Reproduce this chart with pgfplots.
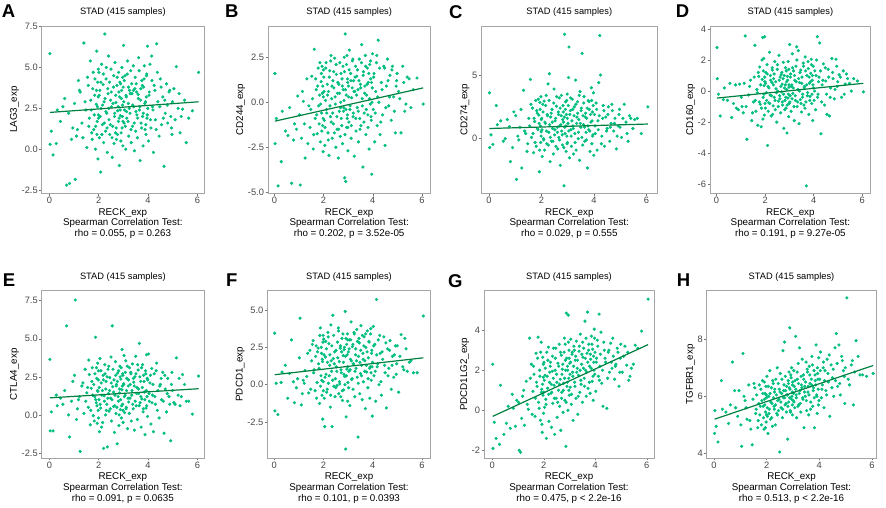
\documentclass[border=0pt]{standalone}
\usepackage{fontspec}
\setmainfont{Liberation Sans}
\usepackage{pgfplots}
\usepackage{pgfplotstable}
\pgfplotsset{compat=1.18}
\definecolor{ptc}{RGB}{0,190,125}
\definecolor{fitc}{RGB}{0,128,64}
\definecolor{framec}{RGB}{165,165,165}

\pgfplotstableread{
x a b c d e f g h
0.02 5.85 1.60 3.60 2.80 3.65 3.45 2.30 4.70
0.03 0.30 -2.30 -0.70 0.80 -1.05 -1.75 -1.90 5.50
0.15 -0.35 -4.65 -0.45 -1.60 -1.05 -2.00 -1.40 4.40
0.28 0.35 -3.30 2.60 -0.55 1.30 0.15 -1.70 6.55
0.32 2.40 -0.50 1.10 0.20 0.60 0.85 1.25 5.55
0.55 2.60 -1.85 -0.20 0.50 0.70 -0.90 -0.65 5.05
0.70 -2.20 -4.50 1.50 -0.80 5.85 3.00 -0.90 7.20
0.82 -2.10 -1.20 -1.80 -1.10 -1.45 -1.20 0.10 5.60
0.95 1.30 0.35 2.10 0.45 2.20 0.40 0.50 6.20
1.05 -1.85 -4.60 -3.20 -1.00 7.55 4.45 -2.00 4.25
1.10 0.80 -2.00 0.20 -1.40 -0.30 -1.35 -2.10 7.50
1.18 4.20 0.05 0.90 3.55 1.00 0.30 0.70 5.85
1.25 3.50 -3.10 -2.30 -3.10 -2.40 0.95 -0.75 5.20
1.32 1.60 1.30 3.80 -0.25 1.90 0.55 1.45 6.40
1.40 6.50 -0.20 0.40 0.70 0.10 -0.55 0.05 4.85
1.45 2.90 -1.40 -1.00 -1.90 3.00 2.30 3.60 4.30
1.52 0.10 1.45 1.60 -0.70 1.45 1.60 2.30 6.45
1.58 3.90 -2.60 4.65 2.95 0.50 2.95 0.95 5.40
1.62 1.90 2.95 0.10 -1.30 2.65 1.00 1.80 6.05
1.66 5.40 -0.90 2.40 0.10 -0.65 -0.40 -0.30 4.90
1.70 2.40 0.70 -1.10 -2.20 1.75 2.60 2.85 5.75
1.74 0.60 -1.75 1.35 0.95 3.10 0.15 1.20 5.35
1.78 4.70 1.90 3.00 1.55 -0.05 2.45 3.65 6.25
1.80 1.20 -0.20 -0.60 -0.85 2.00 1.40 0.40 5.00
1.84 3.30 0.40 2.00 -2.30 1.20 -1.25 2.00 6.55
1.87 0.00 -2.20 0.70 2.00 5.10 3.80 -0.50 5.65
1.90 2.75 1.15 1.85 3.45 0.80 0.60 3.40 4.85
1.92 6.00 -0.60 -2.60 -0.40 2.40 2.10 1.05 5.90
1.94 1.70 2.00 2.85 2.10 -0.55 -0.70 -1.10 6.10
1.96 4.10 -1.30 1.00 0.35 3.40 1.55 2.65 5.45
1.97 -0.60 0.90 -0.30 -1.55 1.55 -2.30 0.75 6.35
1.98 3.20 -2.75 3.30 3.50 0.30 2.85 1.65 5.10
1.99 2.10 0.30 0.55 0.60 2.90 0.20 -0.15 5.95
2.01 4.70 1.40 1.60 -1.10 1.00 3.05 2.40 6.70
2.03 0.70 -1.00 -1.40 1.20 -1.10 -0.90 0.15 5.30
2.05 3.60 -2.40 2.70 -0.10 3.70 -2.80 1.75 4.70
2.08 -1.40 0.10 0.00 1.70 0.45 1.85 0.55 6.00
2.10 2.50 2.20 2.95 -3.50 2.10 0.70 -1.40 5.55
2.12 5.20 -0.40 -0.90 0.30 -0.80 2.40 2.90 6.90
2.15 1.50 1.00 1.20 -0.75 1.60 -0.30 1.10 5.20
2.18 3.95 -1.70 3.40 2.50 2.60 3.50 3.15 6.30
2.20 0.40 0.60 -0.40 -0.25 -2.20 0.10 -0.55 5.75
2.22 2.90 -2.95 1.90 1.00 1.25 2.75 1.40 4.95
2.25 7.05 1.75 4.30 -1.60 3.30 1.30 2.20 6.45
2.28 1.10 -0.80 0.50 0.55 0.00 -1.50 0.85 5.65
2.30 4.30 2.60 5.10 1.35 2.20 4.00 -0.85 6.15
2.33 2.20 0.20 -1.80 -0.95 0.70 0.90 1.95 5.00
2.35 -0.20 -2.00 1.70 0.80 -2.10 -2.80 0.35 6.60
2.38 3.40 1.20 -0.20 -0.40 3.00 4.65 3.10 5.40
2.40 5.70 -1.20 2.30 1.90 1.40 1.75 1.25 7.00
2.42 1.80 0.80 0.80 -1.20 0.25 -0.10 -1.20 5.85
2.45 0.90 2.45 -1.20 0.15 2.45 2.20 2.60 5.50
2.48 3.00 -0.10 3.90 -2.00 1.10 0.40 0.60 6.25
2.50 4.90 -2.50 0.30 1.40 3.80 -0.20 1.80 4.05
2.52 2.60 1.55 1.40 0.00 -0.40 1.20 -0.35 6.80
2.55 -0.50 -1.50 -0.60 -0.65 5.85 -0.05 2.35 5.60
2.57 1.40 0.50 2.55 2.30 1.85 2.85 1.00 6.10
2.60 3.80 -3.10 0.90 -0.30 0.55 3.80 3.30 5.25
2.62 0.35 1.00 -0.80 0.90 2.30 -0.60 0.20 7.60
2.64 2.00 -0.50 2.10 -1.40 -1.15 1.55 1.55 5.95
2.66 5.30 2.20 0.10 1.05 1.30 0.05 -1.00 6.40
2.68 1.00 -1.90 3.20 -0.05 3.50 2.45 2.75 7.90
2.70 2.85 0.00 1.00 0.45 0.10 -0.80 0.90 5.70
2.72 0.60 -0.90 -2.10 -0.90 2.00 0.80 2.05 6.20
2.75 4.40 1.30 1.80 1.85 -1.90 3.10 -0.10 5.45
2.77 2.35 -2.30 0.60 -2.40 2.75 -1.05 1.35 6.05
2.80 1.70 0.70 -0.50 0.20 0.90 1.95 3.60 4.50
2.82 3.50 -0.30 2.60 -0.60 -0.70 -0.35 0.50 6.55
2.84 -1.00 2.50 1.30 1.50 1.45 2.35 2.50 5.80
2.86 4.10 -4.20 -3.70 -1.10 3.20 0.55 -1.80 6.30
2.88 2.05 3.80 8.20 0.60 0.35 4.90 4.85 8.40
2.90 0.50 -4.40 0.40 -2.70 2.35 -4.30 1.20 5.50
2.92 3.10 0.40 2.90 0.95 -0.20 -2.15 2.20 6.75
2.94 5.00 -1.40 -1.00 -0.45 1.65 2.70 0.00 5.90
2.95 1.30 2.60 1.90 1.90 4.30 1.05 4.75 7.00
2.97 2.70 -0.70 0.20 -1.65 0.70 3.40 1.60 6.15
2.98 0.20 1.10 3.50 0.25 2.60 -1.10 3.00 5.35
2.99 3.80 -2.70 -0.30 -0.80 -0.50 0.15 0.75 6.50
3.01 6.35 0.90 1.20 3.00 2.05 2.20 2.35 5.85
3.03 1.60 -1.10 4.80 -0.30 3.90 0.90 1.15 6.90
3.05 2.40 2.90 7.20 1.10 0.15 3.00 3.55 6.35
3.07 4.50 -0.40 -1.50 -1.30 1.30 -1.40 0.30 5.60
3.10 0.00 1.60 2.20 0.40 3.55 1.70 2.80 8.10
3.12 3.20 -2.00 0.70 2.40 0.50 4.20 1.90 6.05
3.14 1.90 0.25 -0.60 -0.15 2.40 0.35 -0.50 5.25
3.17 5.40 2.30 3.10 1.30 -0.90 2.55 3.20 6.60
3.20 2.80 -0.80 1.00 -1.90 1.90 -0.30 1.40 7.15
3.22 0.80 1.20 -1.20 0.70 0.85 1.40 2.50 5.70
3.25 3.60 -3.00 2.50 -0.60 3.10 3.40 0.60 7.70
3.27 2.20 0.60 0.40 1.60 1.10 -0.80 3.45 6.20
3.30 4.80 2.00 4.60 2.85 2.80 2.00 2.10 5.45
3.32 0.40 -1.60 -0.90 -1.00 -0.40 1.10 -0.20 6.40
3.35 3.40 1.45 1.70 0.10 1.60 3.70 1.75 7.30
3.37 1.40 -0.30 2.90 2.60 3.35 0.50 2.95 5.95
3.40 5.10 0.70 0.00 -2.10 0.40 -3.50 0.90 6.75
3.42 2.60 -2.20 1.50 0.55 2.15 1.90 3.80 4.90
3.45 -0.10 2.40 -1.70 -0.55 -1.00 2.80 1.30 6.35
3.47 3.70 -0.90 3.70 1.35 2.50 -0.60 2.30 6.00
3.50 1.10 1.00 0.90 -1.35 3.85 0.75 0.40 7.20
3.52 4.00 -1.30 2.40 0.90 0.60 3.95 2.65 5.50
3.55 2.10 3.20 6.70 -0.20 1.80 1.30 3.10 6.85
3.57 0.70 0.20 -0.50 1.80 -0.30 -1.00 1.60 6.15
3.60 3.35 -3.60 1.10 -0.90 2.95 2.10 4.45 5.35
3.62 5.60 1.70 3.30 0.30 1.40 0.20 2.00 7.05
3.65 2.40 -0.60 -0.20 2.20 4.70 3.20 0.70 6.45
3.68 -0.70 0.90 2.00 -0.70 0.80 1.60 2.85 5.80
3.70 3.00 2.60 0.50 -6.10 2.20 -1.60 4.90 6.60
3.72 1.60 -1.80 1.60 1.00 -0.80 2.50 1.10 7.40
3.75 4.20 0.40 -2.30 -0.10 1.05 0.85 3.30 5.65
3.78 2.00 1.90 3.00 1.45 3.30 3.60 2.20 6.30
3.80 0.20 -0.70 0.70 -1.50 0.20 -0.20 0.85 6.90
3.82 3.80 1.10 2.30 0.50 2.60 1.80 2.55 4.90
3.85 5.10 -2.60 -1.00 -0.35 1.50 2.85 3.70 6.55
3.88 1.20 2.10 1.30 1.15 -1.30 -0.90 1.45 7.80
3.90 2.90 -0.10 4.00 2.05 2.90 1.20 3.05 6.05
3.92 0.90 1.30 -0.40 -0.80 0.45 3.75 0.50 5.40
3.94 4.50 -1.00 2.10 0.70 3.95 0.30 2.40 6.80
3.96 1.90 -4.00 0.30 -1.90 1.20 2.30 4.05 6.25
3.98 6.30 0.80 3.60 1.60 -0.10 -2.10 1.80 7.35
3.99 2.50 2.70 -1.30 0.20 2.30 1.50 2.90 5.85
4.02 0.50 -0.40 1.90 -0.60 4.00 3.90 0.95 6.60
4.05 3.50 1.60 0.40 1.30 0.90 0.60 2.60 7.55
4.08 5.20 -2.20 2.80 -1.20 2.10 2.70 3.50 5.95
4.12 1.30 0.60 -0.90 2.00 -0.60 -1.10 1.70 6.40
4.15 5.70 2.20 1.40 3.50 3.05 5.70 4.80 7.00
4.18 2.60 -1.30 4.40 -0.20 1.30 1.20 2.20 5.60
4.22 -0.20 3.45 8.10 0.90 -1.10 3.00 3.90 6.90
4.25 3.90 0.00 5.00 3.10 2.70 0.00 1.35 6.20
4.30 1.80 -1.80 0.20 -2.75 0.70 2.10 0.20 7.30
4.35 6.45 1.10 2.60 0.40 3.40 -0.70 3.00 6.50
4.40 2.90 -0.70 -0.60 1.75 1.60 1.70 2.40 5.30
4.45 0.80 2.00 1.70 -0.90 -0.20 3.20 0.10 7.10
4.50 4.30 -2.40 0.80 0.65 2.00 0.80 2.90 6.65
4.55 1.50 0.90 2.50 -1.50 1.00 -1.55 1.90 6.00
4.60 3.20 2.40 -0.20 1.40 2.80 2.40 3.35 7.70
4.65 -1.05 -0.20 1.20 -1.60 -1.20 1.10 2.10 8.20
4.70 2.20 1.50 2.20 0.20 1.70 2.95 2.70 6.35
4.75 4.00 -1.00 0.60 2.10 0.20 -0.30 1.55 7.80
4.80 1.60 2.00 1.60 0.80 2.40 1.90 2.30 6.05
4.85 3.50 0.30 -0.80 -0.50 1.20 0.50 3.10 7.40
4.92 2.00 -1.70 1.00 2.05 -1.70 2.60 1.20 6.90
4.97 0.90 1.20 2.30 0.30 2.80 1.40 2.60 5.75
5.05 3.70 0.60 0.10 1.05 0.80 -0.50 1.90 9.45
5.15 5.05 -1.70 2.70 -0.40 3.75 3.35 3.20 6.40
5.22 2.50 2.00 1.30 1.30 1.30 1.20 2.25 7.10
5.30 1.00 -0.50 -0.20 0.45 0.60 3.10 1.50 5.70
5.40 2.45 1.40 1.60 0.80 2.65 0.90 2.10 7.95
5.55 0.40 -0.30 1.50 0.00 0.90 1.60 3.25 6.75
5.80 2.35 1.35 0.40 0.65 0.05 0.80 3.95 6.70
6.05 4.70 -0.10 2.50 -0.05 2.55 4.60 5.55 6.80
0.08 1.10 -0.90 0.30 -0.20 0.20 0.10 -0.60 4.95
0.45 1.70 -1.60 1.40 -0.60 1.10 1.30 -1.20 5.45
0.62 3.10 -0.30 0.00 -1.70 1.60 0.75 0.20 5.70
0.78 2.20 -2.10 0.95 0.40 0.00 0.20 0.80 6.20
0.90 0.60 -1.50 -0.70 -1.20 0.90 -0.20 -0.80 5.30
1.02 2.80 -0.70 1.80 -0.40 2.60 1.80 0.40 5.00
1.14 1.20 0.60 -0.10 0.50 0.40 -0.60 -0.40 6.00
1.22 3.60 -1.20 2.30 -1.00 1.20 0.10 1.00 5.60
1.36 0.70 -2.30 0.60 0.30 2.10 2.10 0.30 5.15
1.48 2.40 -0.40 -0.40 -1.40 0.90 -0.30 1.60 5.90
1.55 4.40 0.20 1.00 0.90 1.80 2.70 -0.20 6.30
1.60 1.40 -1.80 2.70 -0.60 3.60 0.80 2.20 5.55
1.68 3.00 1.30 0.40 -0.10 0.30 1.90 0.60 5.15
1.72 1.00 -0.70 1.60 1.20 2.20 -0.90 1.40 6.40
1.76 3.70 0.90 -0.30 -0.70 1.30 2.20 2.60 5.65
1.82 2.10 -1.20 2.20 0.40 -0.40 1.10 0.10 5.85
1.85 4.30 2.20 0.80 -1.10 2.70 3.30 1.70 6.10
1.88 1.40 -0.10 3.10 0.75 1.00 -0.10 2.90 5.25
1.91 3.60 1.60 1.20 -1.80 3.10 2.50 0.90 6.50
1.93 0.90 -1.60 -0.90 1.30 0.60 0.30 -0.70 5.70
1.95 2.60 0.50 2.30 -0.20 1.60 1.70 1.30 4.90
1.985 4.90 -0.90 0.20 0.90 2.30 3.30 2.30 6.05
1.995 1.90 1.80 1.50 -0.80 -0.20 -0.40 0.90 5.35
2.02 3.30 0.60 0.70 0.50 1.80 2.00 1.50 5.60
2.06 2.00 -1.40 2.10 -0.60 0.70 0.50 2.10 6.35
2.09 4.10 1.90 -0.10 1.10 2.90 2.90 0.30 5.40
2.13 0.90 -0.60 1.30 -1.30 1.30 -0.50 1.70 6.10
2.16 2.70 0.40 2.60 0.20 -0.50 1.50 2.50 5.80
2.19 4.60 -2.10 0.60 -0.80 2.30 3.20 0.80 5.25
2.23 1.60 1.40 1.80 0.70 0.90 0.60 1.90 6.55
2.26 3.10 -0.20 -0.50 -0.30 2.70 2.00 2.40 5.95
2.29 2.30 2.30 3.00 1.50 1.70 -0.70 1.30 5.55
2.31 5.00 -1.10 1.10 -1.50 0.30 1.60 0.90 6.25
2.34 1.30 0.90 0.10 0.40 2.50 2.60 2.70 5.70
2.37 3.70 -0.60 2.00 1.10 1.10 0.30 1.60 6.05
2.41 2.50 1.70 1.30 -0.60 3.20 3.30 0.60 5.35
2.44 4.10 -1.70 -0.20 0.60 1.60 1.40 2.00 6.45
2.47 1.50 0.30 2.80 -0.10 0.40 -0.80 3.10 5.90
2.51 3.50 2.10 0.70 1.70 2.10 2.30 1.40 6.15
2.54 0.70 -0.80 1.60 -1.00 1.00 0.90 0.40 5.80
2.58 2.80 1.10 3.30 0.70 3.00 1.80 2.20 6.60
2.61 4.50 -1.50 0.50 -0.50 1.50 3.60 1.30 5.55
2.65 2.20 0.50 1.90 0.30 0.60 0.20 2.90 6.20
2.69 3.30 -0.30 -0.10 1.20 2.60 2.60 0.60 5.95
2.71 1.30 1.60 2.40 -0.70 1.90 1.00 1.80 6.70
2.74 3.90 -1.30 1.10 0.80 0.50 2.20 2.30 5.75
2.76 0.90 0.90 3.40 -0.20 2.20 -0.40 1.00 6.35
2.79 2.60 2.00 0.30 1.00 1.20 3.40 2.90 6.05
2.81 4.70 -0.50 1.50 -1.20 2.90 1.50 1.60 5.65
2.83 1.90 0.10 2.10 0.40 0.00 0.70 3.30 6.45
2.85 3.20 1.70 -0.70 -0.40 1.70 2.50 2.00 6.85
2.87 2.40 -1.80 1.70 1.30 2.50 0.00 0.40 5.95
2.89 4.00 0.70 0.90 0.10 1.00 1.90 2.60 6.25
2.91 1.00 -0.40 2.30 -0.90 3.10 3.10 1.40 5.45
2.93 3.60 2.10 1.00 0.70 0.60 0.60 2.00 6.65
2.96 2.00 -0.90 3.00 -0.20 1.90 2.00 3.40 6.00
2.975 4.40 1.30 -0.40 1.40 2.70 1.20 1.00 5.70
2.985 1.70 -1.40 1.60 0.40 0.30 3.00 2.60 6.40
3.02 2.90 0.30 2.60 -0.70 2.00 -0.20 1.80 6.10
3.04 4.20 1.80 0.60 0.90 1.20 2.40 2.40 5.80
3.08 1.40 -0.20 1.90 0.30 2.80 1.00 0.80 6.55
3.11 3.30 1.20 3.20 -0.50 0.40 3.00 2.90 6.25
3.13 2.30 -1.30 0.20 1.50 1.60 1.60 1.70 5.95
3.16 4.60 0.80 1.40 0.20 3.20 0.40 2.20 6.85
3.19 1.70 2.40 2.30 -1.00 1.10 2.70 3.00 5.65
3.21 3.80 -0.60 0.80 1.00 2.30 1.40 1.20 6.45
3.24 2.50 0.60 1.80 -0.30 0.10 3.50 2.70 6.10
3.28 3.40 1.40 -0.30 0.60 2.00 0.90 1.90 5.75
3.31 1.20 -0.90 2.70 2.00 2.70 2.40 2.50 6.70
3.34 4.00 0.40 1.20 -0.70 1.30 1.60 0.70 6.30
3.38 2.70 1.80 2.00 0.80 0.70 2.90 3.20 5.90
3.41 3.60 -0.50 0.50 0.00 2.40 0.10 2.00 6.60
3.44 1.60 1.20 3.40 1.20 1.90 3.10 1.50 6.15
3.48 4.40 -1.50 1.20 -0.80 0.90 1.50 2.80 6.50
3.51 2.30 0.80 2.20 0.50 2.70 2.30 3.40 5.85
3.54 3.50 2.20 0.10 -0.40 1.40 0.60 2.10 6.95
3.58 1.90 -0.20 1.80 1.60 3.30 3.30 1.20 6.35
3.61 3.10 1.50 2.80 0.20 1.70 1.70 2.60 6.05
3.64 4.80 -1.10 0.90 -1.10 0.60 2.60 3.60 6.75
3.67 2.60 0.50 1.70 1.30 2.50 0.90 1.90 5.55
3.71 3.70 2.00 -0.10 0.40 1.20 3.40 2.40 6.40
3.74 1.30 -0.40 2.40 -0.30 3.10 1.30 3.00 7.10
3.77 3.90 1.00 1.00 1.90 1.80 2.20 1.40 6.20
3.81 2.20 -1.40 2.90 0.90 0.40 0.40 2.80 5.95
3.84 4.30 1.60 0.60 -0.60 2.20 2.90 2.10 6.75
3.87 2.80 0.20 1.90 0.60 1.00 1.10 3.30 6.40
3.91 1.50 2.30 3.00 1.70 2.70 3.40 1.70 6.00
3.93 3.20 -0.80 1.40 -0.20 1.60 0.80 2.70 7.00
3.95 4.60 1.10 0.20 1.00 0.60 2.10 2.00 6.60
3.97 2.10 0.00 2.60 0.40 2.40 1.20 3.60 5.70
4.04 3.30 1.40 1.00 0.00 1.40 2.60 2.40 6.90
4.10 1.80 -0.60 2.30 1.00 2.60 0.90 3.20 6.25
4.16 4.20 2.60 0.70 -0.40 0.80 2.00 1.50 7.20
4.20 2.40 0.30 1.80 0.60 2.00 1.40 2.80 6.55
4.28 3.60 1.90 -0.40 1.30 1.20 3.30 2.00 6.05
4.33 1.20 -1.10 1.60 -0.70 2.90 0.20 3.40 6.80
4.38 4.70 0.70 2.20 0.70 0.30 2.20 2.60 7.45
4.48 2.60 1.90 0.60 1.50 1.90 1.30 1.60 6.30
4.53 3.80 -0.30 1.90 -0.20 2.40 2.80 3.00 6.95
4.62 1.90 1.20 0.90 0.90 0.90 0.60 2.40 6.55
4.68 3.00 0.30 2.70 -0.40 2.60 2.30 3.60 7.15
4.78 2.70 1.80 1.20 1.20 1.40 1.30 2.20 6.45
4.88 3.60 -0.50 0.20 0.10 0.70 2.00 2.90 7.25
4.95 1.30 0.90 1.90 1.60 2.00 0.70 1.90 6.70
4.99 2.90 1.60 0.90 0.60 1.60 2.60 3.30 7.00
5.10 1.80 0.20 1.60 0.90 0.70 1.90 2.70 6.60
5.26 3.40 1.10 0.40 -0.20 2.40 1.00 2.90 7.25
5.35 2.00 -0.10 1.80 1.10 1.20 2.40 1.70 6.85
5.48 3.00 1.30 0.80 0.50 2.00 1.50 2.30 7.40
5.65 1.90 0.70 1.60 0.80 0.90 0.80 3.10 6.75
}\data

\newcommand{\txt}{\fontsize{9.8}{11}\selectfont}
\pgfplotsset{panel/.style={
  scale only axis, anchor=south west, clip mode=individual,
  axis line style={framec, line width=0.7pt},
  tick align=outside, xtick pos=bottom, ytick pos=left,
  major tick length=2.3pt,
  tick style={black!55, line width=0.5pt},
  ticklabel style={font=\fontsize{9.3}{10}\selectfont, text=black!72, inner sep=1.5pt},
  xtick={0,2,4,6}, xticklabels={0,2,4,6},
  title={STAD (415 samples)},
  title style={at={(axis description cs:0.5,1)}, anchor=base, yshift=5pt, inner sep=0pt, font=\fontsize{9.3}{10}\selectfont},
  xlabel={RECK\_exp},
  xlabel style={at={(axis description cs:0.5,0)}, anchor=base, yshift=-21.8pt, inner sep=0pt, font=\txt},
  ylabel style={font=\txt, inner sep=1pt},
}}
\newcommand{\pts}[1]{\addplot[only marks, mark=*, mark size=1.4pt, color=ptc, mark options={draw=none, fill=ptc}] table[x=x, y=#1] {\data};}
\newcommand{\fit}[2]{\addplot[fitc, line width=1.2pt] coordinates {(0.02,#1) (6.05,#2)};}
\newcommand{\stat}[1]{\node[anchor=base, font=\txt, inner sep=0pt] at (axis description cs:0.5,0) [yshift=-32.5pt] {Spearman Correlation Test:};
  \node[anchor=base, font=\txt, inner sep=0pt] at (axis description cs:0.5,0) [yshift=-43.4pt] {#1};}
\newcommand{\letter}[3]{\node[anchor=north west, inner sep=0pt, font=\fontsize{18.5}{20}\selectfont\bfseries] at (#1pt,#2pt) {#3};}

\begin{document}
\begin{tikzpicture}
\useasboundingbox (0,0) rectangle (886pt,508pt);

% A
\begin{axis}[panel, at={(41.7pt,314.7pt)}, width=162.3pt, height=167.3pt,
  xmin=-0.31, xmax=6.27, ymin=-2.70, ymax=7.54,
  ytick={-2.5,0,2.5,5,7.5}, yticklabels={-2.5,0.0,2.5,5.0,7.5}, ylabel={LAG3\_exp}]
\pts{a}
\fit{2.25}{2.90}
\stat{rho = 0.055, p = 0.263}
\end{axis}

% B
\begin{axis}[panel, at={(268pt,314.7pt)}, width=162.3pt, height=167.3pt,
  xmin=-0.26, xmax=6.34, ymin=-5.06, ymax=4.24,
  ytick={-5,-2.5,0,2.5}, yticklabels={-5.0,-2.5,0.0,2.5}, ylabel={CD244\_exp}]
\pts{b}
\fit{-1.05}{0.80}
\stat{rho = 0.202, p = 3.52e-05}
\end{axis}

% C
\begin{axis}[panel, at={(481.3pt,314.7pt)}, width=176pt, height=167.3pt,
  xmin=-0.29, xmax=6.41, ymin=-4.29, ymax=8.85,
  ytick={0,5}, yticklabels={0,5}, ylabel={CD274\_exp}]
\pts{c}
\fit{0.80}{1.15}
\stat{rho = 0.029, p = 0.555}
\end{axis}

% D
\begin{axis}[panel, at={(710pt,314.7pt)}, width=160.7pt, height=167.3pt,
  xmin=-0.27, xmax=6.35, ymin=-6.58, ymax=4.19,
  ytick={-6,-4,-2,0,2,4}, yticklabels={-6,-4,-2,0,2,4}, ylabel={CD160\_exp}]
\pts{d}
\fit{-0.45}{0.50}
\stat{rho = 0.191, p = 9.27e-05}
\end{axis}

% E
\begin{axis}[panel, at={(41.7pt,50pt)}, width=162.3pt, height=167.3pt,
  xmin=-0.31, xmax=6.27, ymin=-2.83, ymax=8.16,
  ytick={-2.5,0,2.5,5,7.5}, yticklabels={-2.5,0.0,2.5,5.0,7.5}, ylabel={CTLA4\_exp}]
\pts{e}
\fit{1.12}{1.72}
\stat{rho = 0.091, p = 0.0635}
\end{axis}

% F
\begin{axis}[panel, at={(267.3pt,50pt)}, width=163.4pt, height=167.3pt,
  xmin=-0.28, xmax=6.35, ymin=-4.90, ymax=6.29,
  ytick={-2.5,0,2.5,5}, yticklabels={-2.5,0.0,2.5,5.0}, ylabel={PDCD1\_exp}]
\pts{f}
\fit{0.67}{1.80}
\stat{rho = 0.101, p = 0.0393}
\end{axis}

% G
\begin{axis}[panel, at={(484pt,50pt)}, width=170pt, height=167.3pt,
  xmin=-0.32, xmax=6.28, ymin=-2.38, ymax=5.97,
  ytick={-2,0,2,4}, yticklabels={-2,0,2,4}, ylabel={PDCD1LG2\_exp}]
\pts{g}
\fit{-0.30}{3.28}
\stat{rho = 0.475, p < 2.2e-16}
\end{axis}

% H
\begin{axis}[panel, at={(706.7pt,50pt)}, width=169.6pt, height=167.3pt,
  xmin=-0.28, xmax=6.17, ymin=3.84, ymax=9.70,
  ytick={4,6,8}, yticklabels={4,6,8}, ylabel={TGFBR1\_exp}]
\pts{h}
\fit{5.20}{7.08}
\stat{rho = 0.513, p < 2.2e-16}
\end{axis}

\letter{1.7}{503}{A}
\letter{225}{503}{B}
\letter{449}{503}{C}
\letter{675.7}{503}{D}
\letter{2.7}{234}{E}
\letter{226}{234}{F}
\letter{448}{234}{G}
\letter{676.7}{234}{H}
\end{tikzpicture}
\end{document}
